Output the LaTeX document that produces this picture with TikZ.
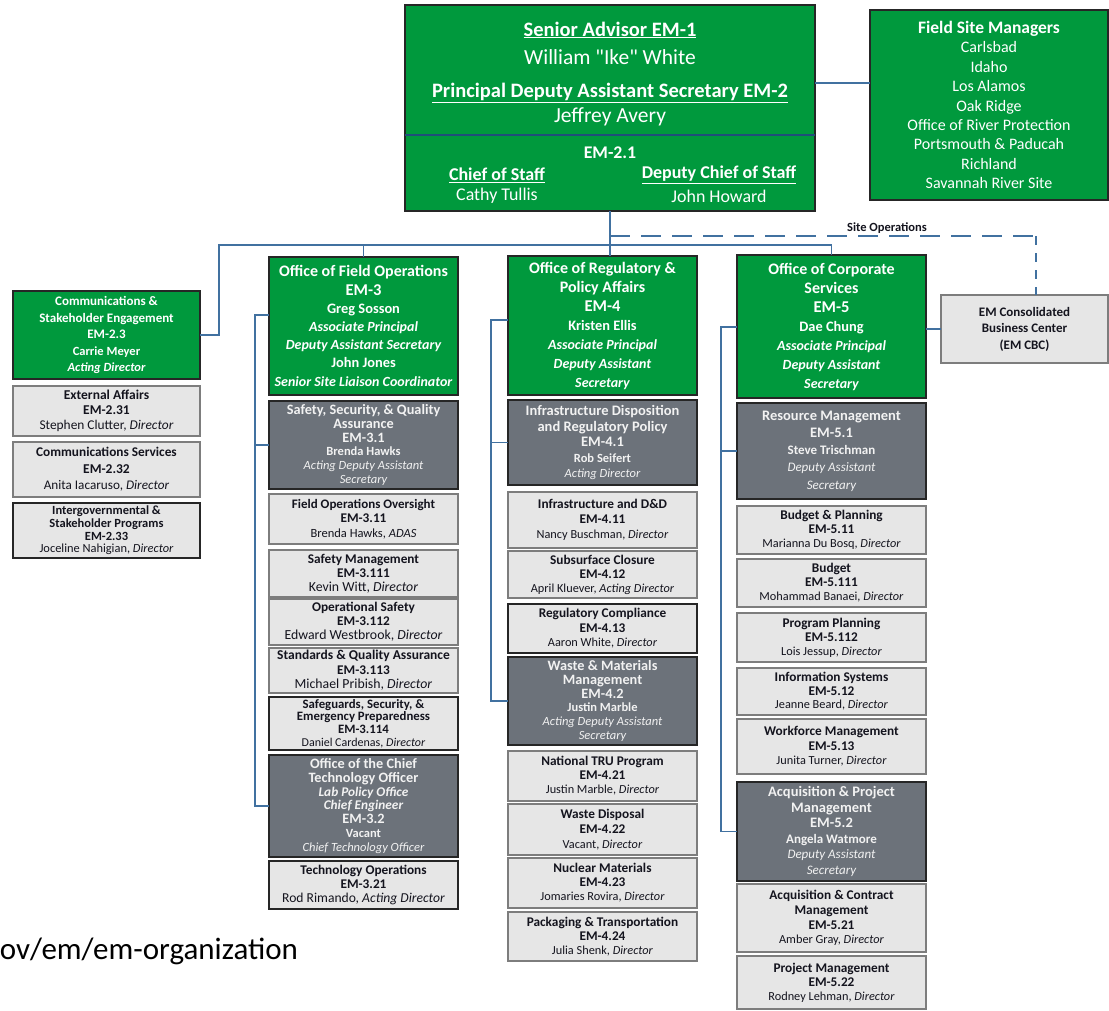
\documentclass[tikz,border=0pt]{standalone}
\usepackage{fontspec}
\setmainfont{Carlito}
\newfontfamily\straightq{Carlito}[Ligatures=TeXOff]

\definecolor{emgreen}{RGB}{0,153,61}
\definecolor{emdark}{RGB}{108,114,122}
\definecolor{emlight}{RGB}{230,230,230}
\definecolor{emedge}{RGB}{38,38,38}
\definecolor{emgray}{RGB}{125,125,125}
\definecolor{emblue}{RGB}{65,113,160}
\definecolor{emnavy}{RGB}{31,78,121}
\definecolor{emtext}{RGB}{20,20,30}
\definecolor{emwhite}{RGB}{242,242,242}

% one line of a box: bold, normal, italic, bold italic
\newcommand\oB[2][13.3]{{\fontsize{#1}{#1}\selectfont\bfseries #2}}
\newcommand\oN[2][12.3]{{\fontsize{#1}{#1}\selectfont #2}}
\newcommand\oI[2][12.3]{{\fontsize{#1}{#1}\selectfont\itshape #2}}
\newcommand\oBI[2][14]{{\fontsize{#1}{#1}\selectfont\bfseries\itshape #2}}

% box from corner (x1,y1) to corner (x2,y2): name, style, x1, y1, x2, y2, text
\newcommand\ob[7]{%
  \node[#2, minimum width={(#5-#3)*1pt}, minimum height={(#6-#4)*1pt}]
    (#1) at ({(#3+#5)/2},{(#4+#6)/2}) {#7};}

\tikzset{
  box/.style={rectangle, inner sep=0pt, outer sep=0pt, align=center, line width=1.3pt},
  gbox/.style={box, fill=emgreen, draw=emedge, text=white},
  dbox/.style={box, fill=emdark, draw=emedge, text=emwhite},
  lbox/.style={box, fill=emlight, draw=emgray, text=emtext},
  lboxk/.style={lbox, draw=emedge},
  ls/.style={font=\fontsize{12}{#1}\selectfont},
  conn/.style={draw=emblue, line width=1.3pt},
  lbl/.style={inner sep=0pt, outer sep=0pt},
}

\begin{document}
\setlength{\lineskiplimit}{-50pt}
\begin{tikzpicture}[x=1pt,y=-1pt]
\useasboundingbox (0,0) rectangle (1109,1010);
\fill[white] (0,0) rectangle (1109,1010);

% ---------- leadership ----------
\ob{main}{gbox}{405}{5}{815}{211}{}
\coordinate (divy) at (0,135);
\draw[emnavy, line width=1.3pt] (main.west |- divy) -- (main.east |- divy);
\node[lbl, text=white] (sa)   at (610,30)  {\oB[20.5]{\underline{Senior Advisor EM-1}}};
\node[lbl, text=white] (ike)  at (610,57)  {\oN[21.5]{\straightq William "Ike" White}};
\node[lbl, text=white] (pdas) at (610,93)  {\oB[20.5]{\underline{Principal Deputy Assistant Secretary EM-2}}};
\node[lbl, text=white] (jav)  at (610,117) {\oN[21.5]{Jeffrey Avery}};
\node[lbl, text=white] (em21) at (610,153) {\oB[17.8]{EM-2.1}};
\node[lbl, text=white] (cos)  at (497,175) {\oB[18]{\underline{Chief of Staff}}};
\node[lbl, text=white] (ct)   at (497,196) {\oN[17.9]{Cathy Tullis}};
\node[lbl, text=white] (dcos) at (719,175) {\oB[18]{\underline{Deputy Chief of Staff}}};
\node[lbl, text=white] (jh)   at (719,196) {\oN[17.9]{John Howard}};

\ob{fsm}{gbox,ls=19.4}{870}{10}{1108}{200}{%
  \oB[17.5]{Field Site Managers}\\ \oN[16]{Carlsbad}\\ \oN[16]{Idaho}\\
  \oN[16]{Los Alamos}\\ \oN[16]{Oak Ridge}\\ \oN[16]{Office of River Protection}\\
  \oN[16]{Portsmouth \& Paducah}\\ \oN[16]{Richland}\\ \oN[16]{Savannah River Site}}

\ob{cbc}{lbox,ls=16.5}{941}{295}{1108}{363}{%
  \oB[13]{EM Consolidated}\\ \oB[13]{Business Center}\\ \oB[13]{(EM CBC)}}

% ---------- communications column ----------
\ob{comm}{gbox,ls=16.5}{13}{291}{200}{379}{%
  \oB[13]{Communications \&}\\ \oB[13]{Stakeholder Engagement}\\ \oB[13]{EM-2.3}\\
  \oB[12.5]{Carrie Meyer}\\ \oBI[12.5]{Acting Director}}
\ob{extaff}{lbox,ls=15}{13}{386}{200}{436}{%
  \oB[13.5]{External Affairs}\\ \oB[13.5]{EM-2.31}\\ \oN[13.4]{Stephen Clutter, \textit{Director}}}
\ob{commsvc}{lbox,ls=16.5}{13}{442}{200}{497}{%
  \oB[13.3]{Communications Services}\\ \oB[13.5]{EM-2.32}\\ \oN[13.2]{Anita Iacaruso, \textit{Director}}}
\ob{intergov}{lboxk,ls=12.7}{13}{503}{200}{558}{%
  \oB[12.5]{Intergovernmental \&}\\ \oB[12.5]{Stakeholder Programs}\\ \oB[12.5]{EM-2.33}\\
  \oN[12.4]{Joceline Nahigian, \textit{Director}}}

% ---------- field operations column ----------
\ob{em3}{gbox,ls=18.2}{269}{257}{458}{395}{%
  \oB[16]{Office of Field Operations}\\ \oB[16.5]{EM-3}\\ \oB[14.4]{Greg Sosson}\\
  \oBI{Associate Principal}\\ \oBI{Deputy Assistant Secretary}\\ \oB[14.4]{John Jones}\\
  \oBI{Senior Site Liaison Coordinator}}
\ob{em31}{dbox,ls=13.8}{269}{401}{458}{489}{%
  \oB[14.3]{Safety, Security, \& Quality}\\ \oB[14.3]{Assurance}\\ \oB[14.3]{EM-3.1}\\
  \oB[12.5]{Brenda Hawks}\\ \oI[12.5]{Acting Deputy Assistant}\\ \oI[12.5]{Secretary}}
\ob{em311}{lbox,ls=14.5}{269}{494}{458}{544}{%
  \oB[13]{Field Operations Oversight}\\ \oB{EM-3.11}\\ \oN[12.5]{Brenda Hawks, \textit{ADAS}}}
\ob{em3111}{lbox,ls=14}{269}{550}{458}{597}{%
  \oB{Safety Management}\\ \oB{EM-3.111}\\ \oN[13.8]{Kevin Witt, \textit{Director}}}
\ob{em3112}{lbox,ls=14}{269}{599}{458}{645}{%
  \oB{Operational Safety}\\ \oB{EM-3.112}\\ \oN[13.8]{Edward Westbrook, \textit{Director}}}
\ob{em3113}{lbox,ls=14.5}{269}{648}{458}{693}{%
  \oB[13.5]{Standards \& Quality Assurance}\\ \oB{EM-3.113}\\ \oN[13.8]{Michael Pribish, \textit{Director}}}
\ob{em3114}{lboxk,ls=12.7}{269}{697}{458}{750}{%
  \oB[12.8]{Safeguards, Security, \&}\\ \oB[12.8]{Emergency Preparedness}\\ \oB[12.8]{EM-3.114}\\
  \oN[12]{Daniel Cardenas, \textit{Director}}}
\ob{cto}{dbox,ls=13.7}{269}{755}{458}{857}{%
  \oB[14.3]{Office of the Chief}\\ \oB[14.3]{Technology Officer}\\ \oBI[13.3]{Lab Policy Office}\\
  \oBI[13.3]{Chief Engineer}\\ \oB[14.3]{EM-3.2}\\ \oB[12.5]{Vacant}\\ \oI[12.5]{Chief Technology Officer}}
\ob{em321}{lboxk,ls=14}{269}{861}{458}{909}{%
  \oB{Technology Operations}\\ \oB{EM-3.21}\\ \oN[13.6]{Rod Rimando, \textit{Acting Director}}}

% ---------- regulatory & policy column ----------
\ob{em4}{gbox,ls=19}{508}{256}{697}{395}{%
  \oB[16]{Office of Regulatory \&}\\ \oB[16]{Policy Affairs}\\ \oB[16.5]{EM-4}\\
  \oB[14.4]{Kristen Ellis}\\ \oBI{Associate Principal}\\ \oBI{Deputy Assistant}\\ \oBI{Secretary}}
\ob{em41}{dbox,ls=15.5}{508}{400}{697}{485}{%
  \oB[14.5]{Infrastructure Disposition}\\ \oB[14.5]{and Regulatory Policy}\\ \oB[14.5]{EM-4.1}\\
  \oB[12.5]{Rob Seifert}\\ \oI[12.5]{Acting Director}}
\ob{em411}{lbox,ls=15}{508}{492}{697}{548}{%
  \oB{Infrastructure and D\&D}\\ \oB{EM-4.11}\\ \oN{Nancy Buschman, \textit{Director}}}
\ob{em412}{lbox,ls=14}{508}{551}{697}{598}{%
  \oB{Subsurface Closure}\\ \oB{EM-4.12}\\ \oN{April Kluever, \textit{Acting Director}}}
\ob{em413}{lboxk,ls=14.5}{508}{604}{697}{653}{%
  \oB{Regulatory Compliance}\\ \oB{EM-4.13}\\ \oN{Aaron White, \textit{Director}}}
\ob{em42}{dbox,ls=13.8}{508}{657}{697}{745}{%
  \oB[14.3]{Waste \& Materials}\\ \oB[14.3]{Management}\\ \oB[14.3]{EM-4.2}\\
  \oB[12.5]{Justin Marble}\\ \oI[12.5]{Acting Deputy Assistant}\\ \oI[12.5]{Secretary}}
\ob{em421}{lbox,ls=14}{508}{751}{697}{801}{%
  \oB{National TRU Program}\\ \oB{EM-4.21}\\ \oN{Justin Marble, \textit{Director}}}
\ob{em422}{lbox,ls=15}{508}{804}{697}{855}{%
  \oB{Waste Disposal}\\ \oB{EM-4.22}\\ \oN{Vacant, \textit{Director}}}
\ob{em423}{lbox,ls=14}{508}{858}{697}{908}{%
  \oB{Nuclear Materials}\\ \oB{EM-4.23}\\ \oN{Jomaries Rovira, \textit{Director}}}
\ob{em424}{lbox,ls=14}{508}{912}{697}{961}{%
  \oB{Packaging \& Transportation}\\ \oB{EM-4.24}\\ \oN{Julia Shenk, \textit{Director}}}

% ---------- corporate services column ----------
\ob{em5}{gbox,ls=19}{737}{255}{926}{398}{%
  \oB[16]{Office of Corporate}\\ \oB[16]{Services}\\ \oB[16.5]{EM-5}\\
  \oB[14.4]{Dae Chung}\\ \oBI{Associate Principal}\\ \oBI{Deputy Assistant}\\ \oBI{Secretary}}
\ob{em51}{dbox,ls=17.2}{737}{403}{926}{499}{%
  \oB[14.5]{Resource Management}\\ \oB[14.5]{EM-5.1}\\ \oB[13]{Steve Trischman}\\
  \oI[13]{Deputy Assistant}\\ \oI[13]{Secretary}}
\ob{em511}{lbox,ls=14}{737}{506}{926}{554}{%
  \oB{Budget \& Planning}\\ \oB{EM-5.11}\\ \oN{Marianna Du Bosq, \textit{Director}}}
\ob{em5111}{lbox,ls=14}{737}{559}{926}{607}{%
  \oB{Budget}\\ \oB{EM-5.111}\\ \oN{Mohammad Banaei, \textit{Director}}}
\ob{em5112}{lbox,ls=14}{737}{613}{926}{662}{%
  \oB{Program Planning}\\ \oB{EM-5.112}\\ \oN{Lois Jessup, \textit{Director}}}
\ob{em512}{lbox,ls=13.5}{737}{668}{926}{715}{%
  \oB{Information Systems}\\ \oB{EM-5.12}\\ \oN{Jeanne Beard, \textit{Director}}}
\ob{em513}{lbox,ls=14.5}{737}{719}{926}{774}{%
  \oB{Workforce Management}\\ \oB{EM-5.13}\\ \oN{Junita Turner, \textit{Director}}}
\ob{em52}{dbox,ls=15.6}{737}{782}{926}{881}{%
  \oB[14.5]{Acquisition \& Project}\\ \oB[14.5]{Management}\\ \oB[14.5]{EM-5.2}\\
  \oB[13]{Angela Watmore}\\ \oI[13]{Deputy Assistant}\\ \oI[13]{Secretary}}
\ob{em521}{lbox,ls=14.7}{737}{884}{926}{952}{%
  \oB{Acquisition \& Contract}\\ \oB{Management}\\ \oB{EM-5.21}\\ \oN{Amber Gray, \textit{Director}}}
\ob{em522}{lbox,ls=14}{737}{956}{926}{1009}{%
  \oB{Project Management}\\ \oB{EM-5.22}\\ \oN{Rodney Lehman, \textit{Director}}}

% ---------- connectors ----------
\coordinate (busL) at (219,245);
\coordinate (fsmlink) at (842,83);
\coordinate (sitecorner) at (1036,236);
\coordinate (c3top) at (255,315);
\coordinate (c4top) at (491,320);
\coordinate (c5top) at (721,327);

\draw[conn] (main.south) -- (main.south |- em4.north);
\draw[conn] (comm.east) -| (busL) -- (em5.north |- busL) -- (em5.north);
\draw[conn] (em3.north |- busL) -- (em3.north);
\draw[conn] (main.east |- fsmlink) -- (fsm.west |- fsmlink);
\draw[conn] (em5.east |- cbc.west) -- (cbc.west);
\draw[conn, dash pattern=on 20pt off 11pt] (main.south |- sitecorner) -- (sitecorner);
\draw[conn, dash pattern=on 9pt off 8pt] (sitecorner) -- (sitecorner |- cbc.north);
\node[lbl, text=emtext] (siteops) at (887,228) {\oB[12.5]{Site Operations}};

\draw[conn] (em3.west |- c3top) -- (c3top) -- (c3top |- cto.west) -- (cto.west);
\draw[conn] (c3top |- em31.west) -- (em31.west);
\draw[conn] (em4.west |- c4top) -- (c4top) -- (c4top |- em42.west) -- (em42.west);
\draw[conn] (c4top |- em41.west) -- (em41.west);
\draw[conn] (em5.west |- c5top) -- (c5top) -- (c5top |- em52.west) -- (em52.west);
\draw[conn] (c5top |- em51.west) -- (em51.west);

% ---------- source address ----------
\node[lbl, anchor=base east, text=black] (src) at (298,959)
  {\fontsize{31}{31}\selectfont ov/em/em-organization};
\end{tikzpicture}
\end{document}
